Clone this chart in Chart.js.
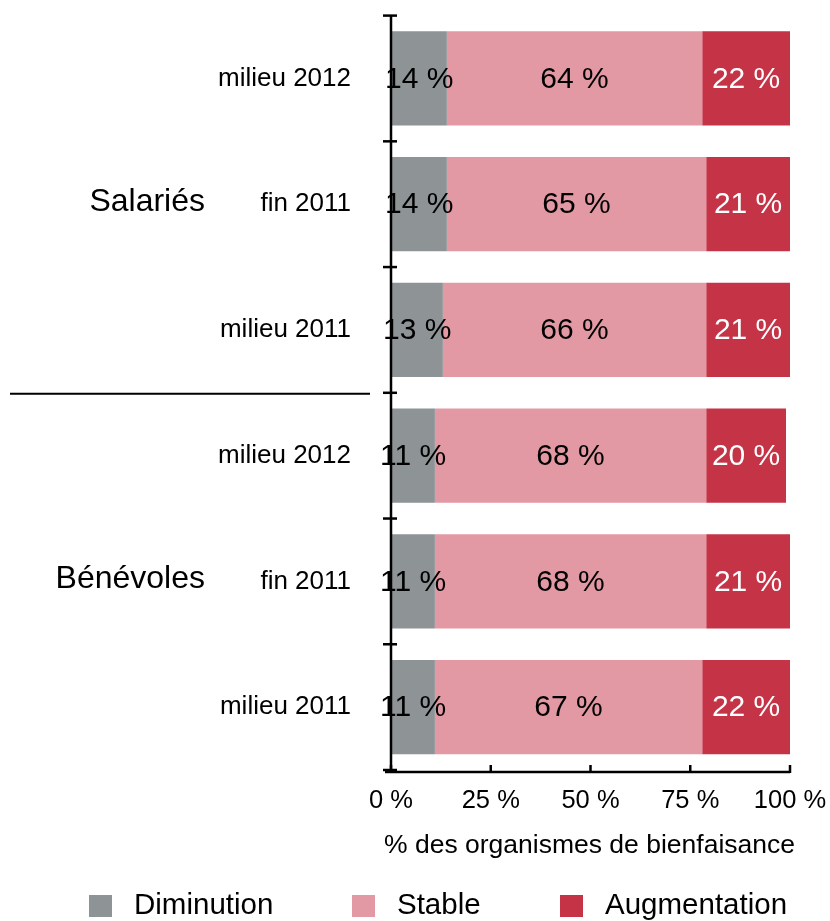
<!DOCTYPE html>
<html><head><meta charset="utf-8">
<script src="https://cdn.jsdelivr.net/npm/chart.js@4/dist/chart.umd.min.js"></script>
<style>html,body{margin:0;padding:0;background:#fff}</style>
</head><body><canvas id="c" width="830" height="921"></canvas>
<script>
const categories = ['milieu 2012','fin 2011','milieu 2011','milieu 2012','fin 2011','milieu 2011'];
const groups = ['Salariés','Bénévoles'];
const groupCenters = [1,4];
const seriesNames = ['Diminution','Stable','Augmentation'];
const diminution = [14,14,13,11,11,11];
const stable = [64,65,66,68,68,67];
const augmentation = [22,21,21,20,21,22];
const xTicks = [0,25,50,75,100];
const xTitle = '% des organismes de bienfaisance';

const FONT = '"Liberation Sans", Arial, Helvetica, sans-serif';
const colors = ['#8e9396','#e399a3','#c53347'];
const labelColors = ['#000000','#000000','#ffffff'];
Chart.defaults.font.family = FONT;
Chart.defaults.color = '#000';

const decor = {
  id: 'decor',
  afterDatasetsDraw(chart) {
    const ctx = chart.ctx;
    ctx.save();
    ctx.font = '30px ' + FONT;
    ctx.textAlign = 'center';
    ctx.textBaseline = 'middle';
    chart.data.datasets.forEach((ds, di) => {
      const meta = chart.getDatasetMeta(di);
      meta.data.forEach((bar, i) => {
        const cx = (bar.x + bar.base) / 2;
        ctx.fillStyle = labelColors[di];
        ctx.fillText(ds.data[i] + ' %', cx, bar.y + 1);
      });
    });
    ctx.restore();
  },
  afterDraw(chart) {
    const ctx = chart.ctx;
    const ca = chart.chartArea;
    const ys = chart.scales.y, xs = chart.scales.x;
    ctx.save();
    ctx.strokeStyle = '#000';
    ctx.lineWidth = 2.5;
    // y axis line
    ctx.beginPath();
    ctx.moveTo(ca.left, ca.top);
    ctx.lineTo(ca.left, ca.bottom + 3);
    ctx.stroke();
    // category ticks (crossing the axis)
    for (let i = 0; i <= categories.length; i++) {
      const y = ys.getPixelForValue(i - 0.5);
      ctx.beginPath();
      ctx.moveTo(ca.left - 8, y);
      ctx.lineTo(ca.left + 6, y);
      ctx.stroke();
    }
    // x axis line
    ctx.beginPath();
    ctx.moveTo(ca.left - 6, ca.bottom + 2);
    ctx.lineTo(ca.right, ca.bottom + 2);
    ctx.stroke();
    // x ticks (inward)
    xTicks.forEach(v => {
      const x = xs.getPixelForValue(v);
      ctx.beginPath();
      ctx.moveTo(x, ca.bottom + 3);
      ctx.lineTo(x, ca.bottom - 5);
      ctx.stroke();
    });
    // group separator
    const sy = ys.getPixelForValue(2.5) + 1;
    ctx.lineWidth = 2;
    ctx.beginPath();
    ctx.moveTo(10, sy);
    ctx.lineTo(ca.left - 21, sy);
    ctx.stroke();
    // x axis title
    ctx.fillStyle = '#000';
    ctx.font = '26.5px ' + FONT;
    ctx.textAlign = 'center';
    ctx.textBaseline = 'middle';
    ctx.fillText(xTitle, (ca.left + ca.right) / 2 - 1, ca.bottom + 76);
    // group labels
    ctx.font = '32px ' + FONT;
    ctx.textAlign = 'right';
    groups.forEach((g, gi) => {
      ctx.fillText(g, ca.left - 186, ys.getPixelForValue(groupCenters[gi]) - 2);
    });
    // legend
    const lx = [89, 352, 560];
    ctx.font = '29.5px ' + FONT;
    ctx.textAlign = 'left';
    chart.data.datasets.forEach((ds, di) => {
      ctx.fillStyle = ds.backgroundColor;
      ctx.fillRect(lx[di], 895, 23, 22);
      ctx.fillStyle = '#000';
      ctx.fillText(ds.label, lx[di] + 45, 906);
    });
    ctx.restore();
  }
};

new Chart(document.getElementById('c'), {
  type: 'bar',
  data: {
    labels: categories,
    datasets: [
      { label: seriesNames[0], data: diminution, backgroundColor: colors[0] },
      { label: seriesNames[1], data: stable, backgroundColor: colors[1] },
      { label: seriesNames[2], data: augmentation, backgroundColor: colors[2] }
    ]
  },
  options: {
    indexAxis: 'y',
    responsive: false,
    animation: false,
    devicePixelRatio: 1,
    layout: { padding: { left: 0, right: 40, top: 12, bottom: 55 } },
    datasets: { bar: { categoryPercentage: 1, barPercentage: 0.75, borderWidth: 0 } },
    plugins: { legend: { display: false }, tooltip: { enabled: false } },
    scales: {
      x: {
        stacked: true, min: 0, max: 100,
        afterFit(s) { s.height = 96; },
        grid: { display: true, drawOnChartArea: false, drawTicks: true, tickLength: 16, tickColor: 'rgba(0,0,0,0)' },
        border: { display: false },
        ticks: { stepSize: 25, padding: 0, font: { size: 25.5 }, color: '#000',
                 callback: v => v + ' %' },
        title: { display: false }
      },
      y: {
        stacked: true,
        afterFit(s) { s.width = 391; },
        grid: { display: true, drawOnChartArea: false, drawTicks: true, tickLength: 40, tickColor: 'rgba(0,0,0,0)' },
        border: { display: false },
        ticks: { padding: 0, font: { size: 26 }, color: '#000' }
      }
    }
  },
  plugins: [decor]
});
</script></body></html>
